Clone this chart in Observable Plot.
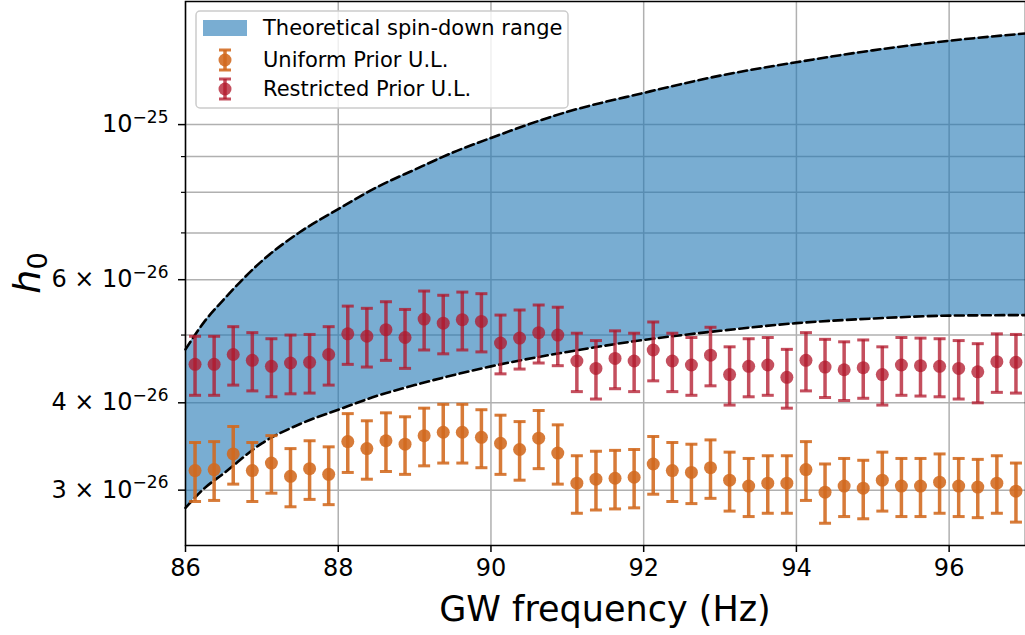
<!DOCTYPE html>
<html><head><meta charset="utf-8">
<script src="https://cdn.jsdelivr.net/npm/d3@7"></script>
<script src="https://cdn.jsdelivr.net/npm/@observablehq/plot@0.6"></script>
<style>
body{margin:0;background:#fff;}
svg{font-family:"DejaVu Sans",sans-serif;}
</style>
</head><body><div id="chart"></div>
<script>
// values in units of 1e-26
const freq = [86.125,86.375,86.625,86.875,87.125,87.375,87.625,87.875,88.125,88.375,88.625,88.875,89.125,89.375,89.625,89.875,90.125,90.375,90.625,90.875,91.125,91.375,91.625,91.875,92.125,92.375,92.625,92.875,93.125,93.375,93.625,93.875,94.125,94.375,94.625,94.875,95.125,95.375,95.625,95.875,96.125,96.375,96.625,96.875];
const uniformUL = [3.20,3.21,3.38,3.20,3.28,3.14,3.22,3.16,3.52,3.44,3.53,3.49,3.59,3.63,3.63,3.57,3.50,3.43,3.56,3.39,3.07,3.11,3.12,3.13,3.27,3.20,3.18,3.23,3.10,3.04,3.07,3.07,3.21,2.98,3.04,3.02,3.10,3.04,3.04,3.08,3.04,3.03,3.07,2.99];
const uniformErr = [0.31,0.31,0.32,0.31,0.31,0.30,0.31,0.30,0.34,0.33,0.34,0.33,0.34,0.35,0.35,0.34,0.34,0.33,0.34,0.33,0.29,0.30,0.30,0.30,0.31,0.31,0.31,0.31,0.30,0.29,0.29,0.29,0.31,0.29,0.29,0.29,0.30,0.29,0.29,0.30,0.29,0.29,0.29,0.29];
const restrictedUL = [4.54,4.54,4.69,4.60,4.51,4.56,4.57,4.69,5.02,4.98,5.09,4.96,5.27,5.20,5.26,5.23,4.87,4.95,5.04,5.00,4.59,4.48,4.63,4.59,4.76,4.59,4.53,4.68,4.39,4.51,4.53,4.35,4.60,4.50,4.46,4.49,4.39,4.53,4.52,4.51,4.48,4.43,4.58,4.57];
const restrictedErr = [0.44,0.44,0.45,0.44,0.43,0.44,0.44,0.45,0.48,0.48,0.49,0.48,0.51,0.50,0.50,0.50,0.47,0.48,0.48,0.48,0.44,0.43,0.44,0.44,0.46,0.44,0.43,0.45,0.42,0.43,0.43,0.42,0.44,0.43,0.43,0.43,0.42,0.43,0.43,0.43,0.43,0.43,0.44,0.44];
const bandFreq  = [86,86.25,86.5,87,87.5,88,88.5,89,89.5,90,91,92,93,94,95,96,97];
const bandUpper = [4.77,5.23,5.62,6.38,7.02,7.57,8.13,8.62,9.12,9.57,10.43,11.10,11.75,12.28,12.77,13.18,13.50];
const bandLower = [2.83,3.02,3.17,3.50,3.73,3.91,4.09,4.24,4.38,4.51,4.73,4.92,5.07,5.20,5.28,5.33,5.34];
const xTicks = [86,88,90,92,94,96];
const yMajor = [3,4,6,10];
const yMinor = [5,7,8,9];
const yGrid = [3,4,5,6,7,8,9,10];
const legendLabels = ["Theoretical spin-down range","Uniform Prior U.L.","Restricted Prior U.L."];
const xLabel = "GW frequency (Hz)";

const ORANGE = "#d2691e", RED = "#b2182b", BLUE = "#1f77b4";
const OP_O = 0.88, OP_R = 0.76;
const uni = freq.map((f,i)=>({f, v: uniformUL[i], e: uniformErr[i]}));
const res = freq.map((f,i)=>({f, v: restrictedUL[i], e: restrictedErr[i]}));
const band = bandFreq.map((f,i)=>({f, lo: bandLower[i], hi: bandUpper[i]}));

const cap = {draw(ctx, size){ const r = Math.sqrt(size/Math.PI); ctx.moveTo(-r,0); ctx.lineTo(r,0); }};

function errMarks(data, color, op){
  return [
    Plot.ruleX(data, {x:"f", y1: d=>d.v-d.e, y2: d=>d.v+d.e, stroke: color, strokeWidth: 3.5, strokeOpacity: op}),
    Plot.dot(data, {x:"f", y: d=>d.v+d.e, symbol: cap, r: 6, stroke: color, strokeWidth: 3, strokeOpacity: op, fill: "none"}),
    Plot.dot(data, {x:"f", y: d=>d.v-d.e, symbol: cap, r: 6, stroke: color, strokeWidth: 3, strokeOpacity: op, fill: "none"}),
    Plot.dot(data, {x:"f", y:"v", r: 6.5, fill: color, fillOpacity: op, stroke: "none"})
  ];
}
const fmtY = v => v === 10 ? "10|−25" : `${v} × 10|−26`;

const plot = Plot.plot({
  width: 1025, height: 635,
  marginLeft: 185, marginRight: 0, marginTop: 1, marginBottom: 90,
  style: {fontFamily: "DejaVu Sans", fontSize: "24px", background: "white", color: "black"},
  x: {domain: [86, 97]},
  y: {type: "log", domain: [2.5, 15]},
  marks: [
    Plot.gridX(xTicks, {stroke: "#b0b0b0", strokeOpacity: 1, strokeWidth: 1.5}),
    Plot.gridY(yGrid, {stroke: "#b0b0b0", strokeOpacity: 1, strokeWidth: 1.5}),
    Plot.areaY(band, {x: "f", y1: "lo", y2: "hi", fill: BLUE, fillOpacity: 0.6, curve: "monotone-x"}),
    Plot.line(band, {x: "f", y: "hi", stroke: "black", strokeWidth: 2.6, strokeDasharray: "9,4.5", curve: "monotone-x"}),
    Plot.line(band, {x: "f", y: "lo", stroke: "black", strokeWidth: 2.6, strokeDasharray: "9,4.5", curve: "monotone-x"}),
    ...errMarks(uni, ORANGE, OP_O),
    ...errMarks(res, RED, OP_R),
    Plot.frame({stroke: "black", strokeWidth: 1.5}),
    Plot.axisX(xTicks, {tickSize: 7, tickPadding: 6, fontSize: 24, tickFormat: d => String(d), label: null, strokeWidth: 1.5}),
    Plot.axisY(yMajor, {tickSize: 7, tickPadding: 10, fontSize: 24, tickFormat: fmtY, label: null, strokeWidth: 1.5}),
    Plot.axisY(yMinor, {tickSize: 4, tickFormat: () => "", label: null, strokeWidth: 1.2})
  ]
});

const svg = d3.select(plot);
// superscripts on y tick labels
svg.selectAll('g[aria-label="y-axis tick label"] text').each(function(){
  const t = d3.select(this); const s = t.text();
  if (!s.includes("|")) return;
  const [base, exp] = s.split("|");
  t.text("");
  t.append("tspan").text(base);
  t.append("tspan").attr("dy", "-0.55em").attr("font-size", "17px").text(exp);
});

// axis labels
svg.append("text").attr("x", 605).attr("y", 621).attr("text-anchor", "middle")
  .attr("font-size", 35).attr("fill", "black").text(xLabel);
const yl = svg.append("text").attr("transform", "translate(40,273) rotate(-90)")
  .attr("text-anchor", "middle").attr("font-size", 38).attr("fill", "black");
yl.append("tspan").attr("font-style", "italic").text("h");
yl.append("tspan").attr("font-size", 27).attr("dy", 7).text("0");

// legend
const lg = svg.append("g");
lg.append("rect").attr("x", 196).attr("y", 11).attr("width", 372).attr("height", 97).attr("rx", 4)
  .attr("fill", "white").attr("fill-opacity", 0.8).attr("stroke", "#cccccc").attr("stroke-width", 1.5);
lg.append("rect").attr("x", 203).attr("y", 20).attr("width", 44).attr("height", 16)
  .attr("fill", BLUE).attr("fill-opacity", 0.6);
const rowsY = [28, 60, 89];
legendLabels.forEach((s,i)=>{
  lg.append("text").attr("x", 263).attr("y", rowsY[i]).attr("dy", "0.35em").attr("text-anchor", "start")
    .attr("font-size", 21).attr("fill", "black").text(s);
});
[[ORANGE,OP_O,rowsY[1]],[RED,OP_R,rowsY[2]]].forEach(([c,op,y])=>{
  const g = lg.append("g").attr("stroke", c).attr("stroke-opacity", op);
  g.append("line").attr("x1",225).attr("x2",225).attr("y1",y-10).attr("y2",y+10).attr("stroke-width",3.5);
  g.append("line").attr("x1",219).attr("x2",231).attr("y1",y-10).attr("y2",y-10).attr("stroke-width",3);
  g.append("line").attr("x1",219).attr("x2",231).attr("y1",y+10).attr("y2",y+10).attr("stroke-width",3);
  lg.append("circle").attr("cx",225).attr("cy",y).attr("r",6.5).attr("fill",c).attr("fill-opacity",op);
});

document.getElementById("chart").appendChild(plot);
</script>
</body></html>
